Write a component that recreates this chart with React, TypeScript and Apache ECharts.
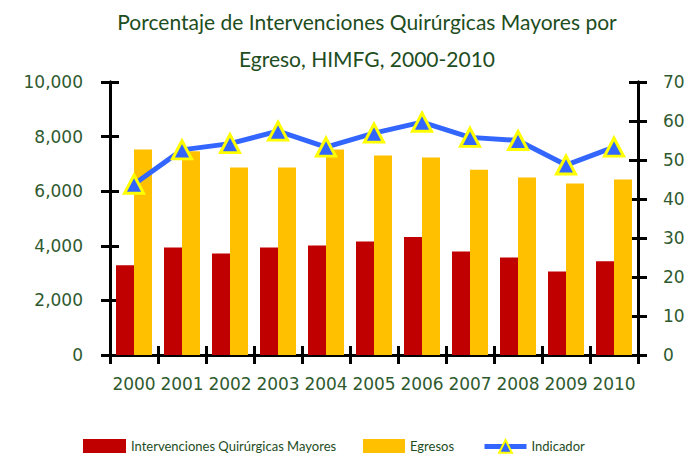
import React, { useEffect, useRef } from "react";
import * as echarts from "echarts";

const years = ["2000", "2001", "2002", "2003", "2004", "2005", "2006", "2007", "2008", "2009", "2010"];
const intervenciones = [3290, 3940, 3720, 3940, 4010, 4160, 4320, 3790, 3570, 3060, 3430];
const egresos = [7530, 7460, 6870, 6870, 7530, 7310, 7230, 6790, 6500, 6280, 6430];
const indicador = [43.8, 52.6, 54.2, 57.4, 53.3, 56.9, 59.7, 55.8, 55.0, 48.7, 53.3];

const leftMax = 10000;
const leftInterval = 2000;
const rightMax = 70;
const rightInterval = 10;

const titleLine1 = "Porcentaje de Intervenciones Quirúrgicas Mayores por";
const titleLine2 = "Egreso, HIMFG, 2000-2010";
const nameBar1 = "Intervenciones Quirúrgicas Mayores";
const nameBar2 = "Egresos";
const nameLine = "Indicador";

const titleColor = "#1E4D1E";
const labelColor = "#2F5A2F";

export default function App() {
  const ref = useRef<HTMLDivElement>(null);
  useEffect(() => {
    document.body.style.margin = "0";
    if (!ref.current) return;
    const chart = echarts.init(ref.current, undefined, { renderer: "svg" });
    const axisLine = { show: true, lineStyle: { color: "#000", width: 3 } };
    const tickOut = { show: true, inside: false, length: 9, lineStyle: { color: "#000", width: 3 } };
    const tickIn = { show: true, inside: true, length: 9, lineStyle: { color: "#000", width: 3 } };
    const numFmt = (v: number) => v.toLocaleString("en-US");
    const legendText = { fontFamily: "Lato", fontSize: 13, color: titleColor, padding: [0, 0, 0, 0] };
    const titleStyle = {
      fontFamily: "Lato",
      fontSize: 21,
      fill: titleColor,
      textAlign: "center",
      textVerticalAlign: "middle",
    };
    chart.setOption({
      animation: false,
      graphic: [
        { type: "text", x: 367, y: 21, style: { ...titleStyle, text: titleLine1 } },
        { type: "text", x: 367, y: 58, style: { ...titleStyle, text: titleLine2 } },
      ],
      legend: [
        {
          left: 78,
          top: 434,
          itemWidth: 43,
          itemHeight: 14,
          icon: "rect",
          data: [nameBar1],
          textStyle: legendText,
        },
        {
          left: 358,
          top: 434,
          itemWidth: 42,
          itemHeight: 14,
          icon: "rect",
          data: [nameBar2],
          textStyle: legendText,
        },
        {
          left: 477,
          top: 434,
          itemWidth: 42,
          itemHeight: 16,
          data: [nameLine],
          lineStyle: { width: 5 },
          textStyle: legendText,
        },
      ],
      grid: { left: 110, right: 54, top: 82, bottom: 99, containLabel: false, outerBoundsMode: "none" },
      xAxis: [
        {
          type: "category",
          data: years,
          position: "bottom",
          axisLine,
          axisTick: tickOut,
          axisLabel: {
            margin: 20,
            fontFamily: "DejaVu Sans",
            fontSize: 17,
            color: labelColor,
            interval: 0,
          },
          splitLine: { show: false },
        },
        {
          type: "category",
          data: years,
          position: "bottom",
          axisLine,
          axisTick: tickIn,
          axisLabel: { show: false },
          splitLine: { show: false },
        },
      ],
      yAxis: [
        {
          type: "value",
          position: "left",
          min: 0,
          max: leftMax,
          interval: leftInterval,
          axisLine,
          axisTick: tickOut,
          axisLabel: {
            margin: 27,
            align: "right",
            fontFamily: "DejaVu Sans",
            fontSize: 17,
            color: labelColor,
            formatter: numFmt,
          },
          splitLine: { show: false },
        },
        {
          type: "value",
          position: "right",
          min: 0,
          max: rightMax,
          interval: rightInterval,
          axisLine,
          axisTick: tickOut,
          axisLabel: {
            margin: 25,
            align: "left",
            fontFamily: "DejaVu Sans",
            fontSize: 17,
            color: labelColor,
          },
          splitLine: { show: false },
        },
        {
          type: "value",
          position: "left",
          min: 0,
          max: leftMax,
          interval: leftInterval,
          axisLine,
          axisTick: tickIn,
          axisLabel: { show: false },
          splitLine: { show: false },
        },
        {
          type: "value",
          position: "right",
          min: 0,
          max: rightMax,
          interval: rightInterval,
          axisLine,
          axisTick: tickIn,
          axisLabel: { show: false },
          splitLine: { show: false },
        },
      ],
      series: [
        {
          name: nameBar1,
          type: "bar",
          data: intervenciones,
          xAxisIndex: 0,
          yAxisIndex: 0,
          barGap: "0%",
          barCategoryGap: "25%",
          itemStyle: { color: "#C00000" },
        },
        {
          name: nameBar2,
          type: "bar",
          data: egresos,
          xAxisIndex: 0,
          yAxisIndex: 0,
          barGap: "0%",
          barCategoryGap: "25%",
          itemStyle: { color: "#FFC000" },
        },
        {
          name: nameLine,
          type: "line",
          data: indicador,
          xAxisIndex: 0,
          yAxisIndex: 1,
          symbol: "triangle",
          symbolSize: [19, 18],
          lineStyle: { color: "#3366FF", width: 5 },
          itemStyle: { color: "#3366FF", borderColor: "#FFFF00", borderWidth: 3 },
          z: 5,
        },
      ],
    });
    return () => chart.dispose();
  }, []);
  return <div ref={ref} style={{ width: 692, height: 454 }} />;
}
